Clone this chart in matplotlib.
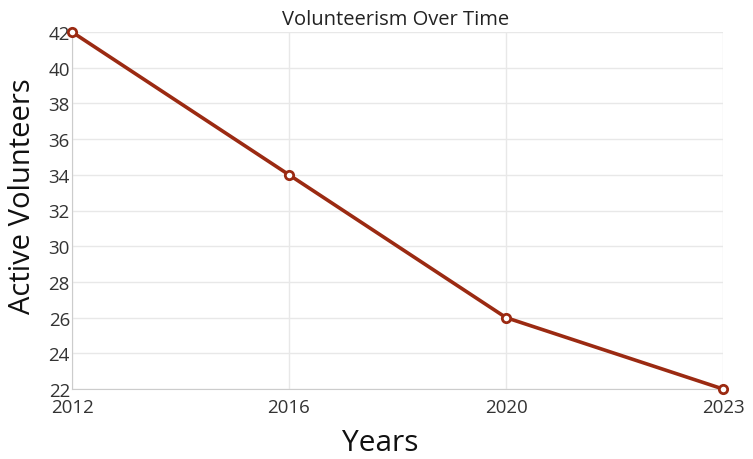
import matplotlib
matplotlib.use("Agg")
import matplotlib.pyplot as plt

years = ["2012", "2016", "2020", "2023"]
volunteers = [42, 34, 26, 22]
yticks = [22, 24, 26, 28, 30, 32, 34, 36, 38, 40, 42]

plt.rcParams['font.family'] = ['Open Sans', 'DejaVu Sans']

W, H = 753, 460
fig = plt.figure(figsize=(W / 100, H / 100), dpi=100)
ax = fig.add_axes([72 / W, 1 - 390 / H, (723 - 72) / W, (390 - 33) / H])

color = "#9b2a12"
x = list(range(len(years)))
ax.plot(x, volunteers, color=color, linewidth=2.6, marker="o", markersize=6,
        markerfacecolor="white", markeredgecolor=color, markeredgewidth=2, zorder=3, clip_on=False)

ax.set_xlim(0, len(years) - 1)
ax.set_ylim(22, 42)
ax.set_xticks(x)
ax.set_xticklabels(years)
ax.set_yticks(yticks)
ax.grid(True, color="#e8e8e8", linewidth=1)
ax.set_axisbelow(True)
for s in ["top", "right"]:
    ax.spines[s].set_visible(False)
for s in ["left", "bottom"]:
    ax.spines[s].set_color("#cccccc")
ax.tick_params(axis="y", length=0, labelsize=13.5, colors="#333333", pad=1.5)
ax.tick_params(axis="x", length=0, labelsize=13.5, colors="#333333", pad=6.5)

fig.text(396 / W, 1 - 20 / H, "Volunteerism Over Time", fontsize=14.5, color="#222222",
         ha="center", va="center")
fig.text(380 / W, 1 - 444 / H, "Years", fontsize=21.5, color="#111111",
         ha="center", va="center")
fig.text(23 / W, 1 - 196 / H, "Active Volunteers", fontsize=21, color="#111111",
         ha="center", va="center", rotation=90)

fig.savefig("out.png", dpi=100)
